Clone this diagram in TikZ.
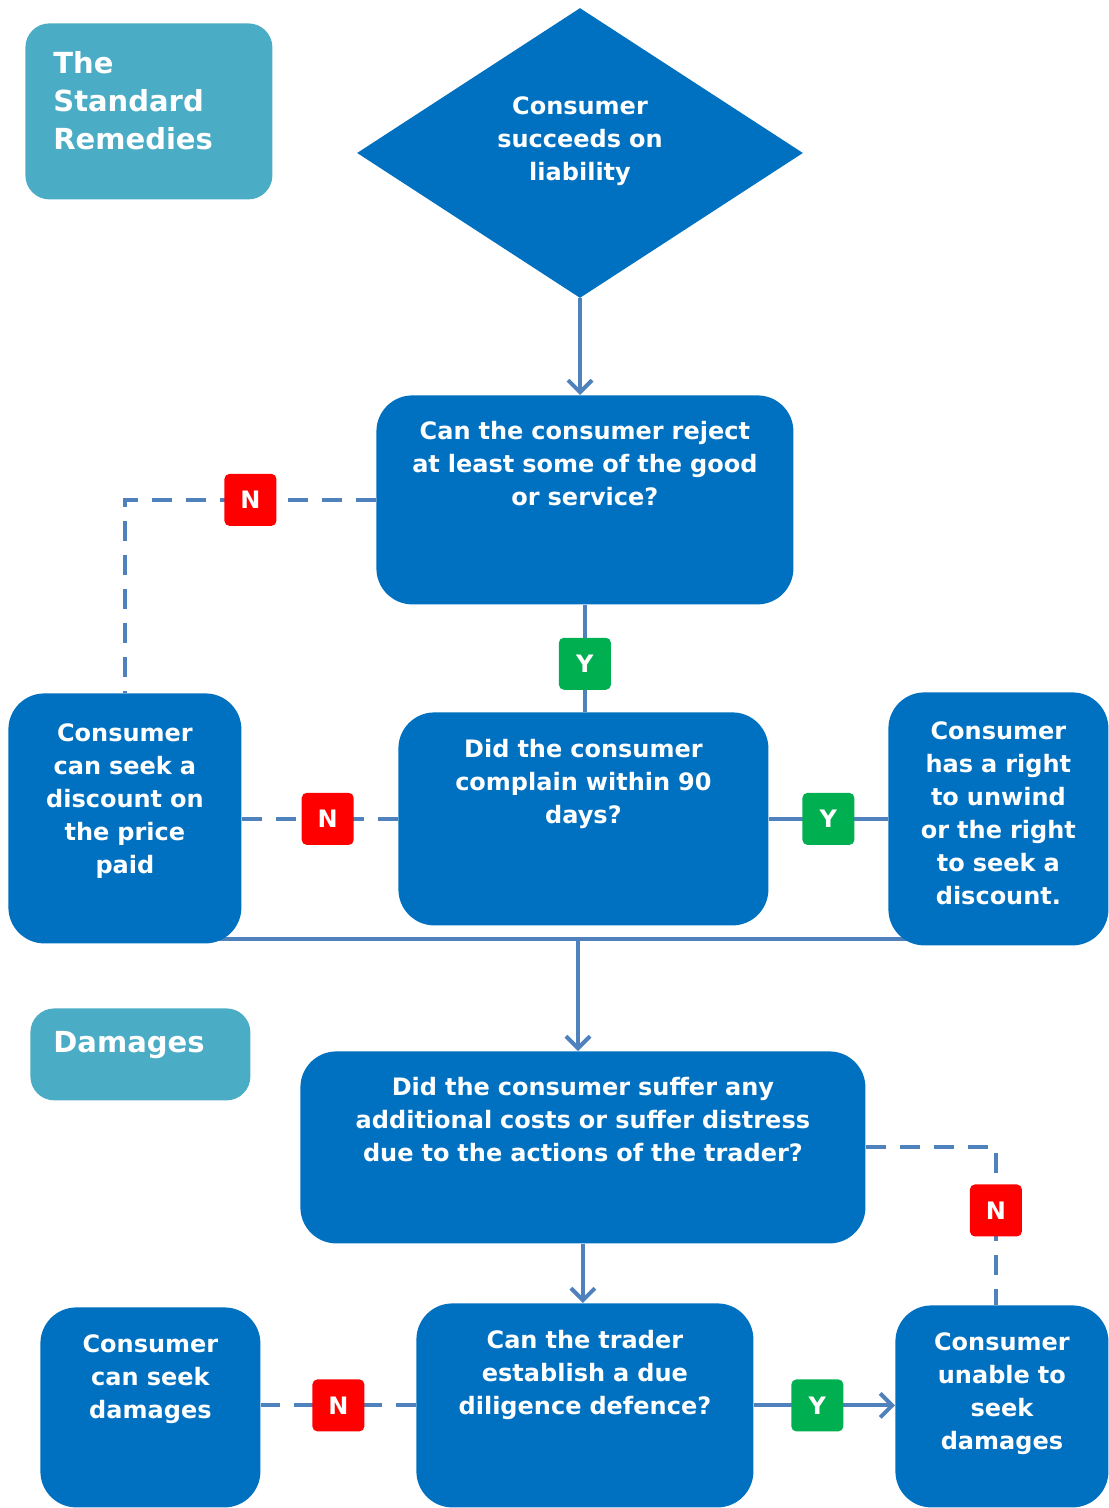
\documentclass[tikz,border=0pt]{standalone}
\usepackage{fontspec}
\setmainfont{DejaVu Sans}
\usetikzlibrary{shapes.geometric,arrows.meta,backgrounds}
\definecolor{boxblue}{HTML}{0070C0}
\definecolor{headblue}{HTML}{4BACC6}
\definecolor{linkblue}{HTML}{4F81BD}
\definecolor{nored}{HTML}{FF0000}
\definecolor{yesgreen}{HTML}{00B050}

\tikzset{
  blue box/.style={fill=boxblue, text=white, rounded corners=18pt, inner sep=0pt,
    align=center, anchor=north west, font=\bfseries\fontsize{12}{16.5}\selectfont},
  head box/.style={fill=headblue, text=white, rounded corners=12pt, inner ysep=0pt,
    align=left, anchor=north west, font=\bfseries\fontsize{14.5}{19}\selectfont},
  badge/.style={text=white, rounded corners=2.5pt, minimum size=26pt, inner sep=0pt,
    font=\bfseries\fontsize{12}{14}\selectfont},
  nobadge/.style={badge, fill=nored},
  yesbadge/.style={badge, fill=yesgreen},
  link/.style={draw=linkblue, line width=2pt},
  dashlink/.style={link, dash pattern=on 10pt off 7pt},
  arrow/.style={-{Straight Barb[length=6pt,width=12pt]}}
}

\begin{document}
\begin{tikzpicture}[x=0.5pt, y=-0.5pt]
    \useasboundingbox (0,0) rectangle (1108,1508);

    % the standard remedies
    \node[head box, inner xsep=14pt, text width=95.5pt, text height=25.25pt, text depth=62.75pt] (std) at (25,23) {The\\Standard\\Remedies};
    \node[diamond, aspect=1.54, fill=boxblue, text=white, inner sep=0pt, minimum width=223pt, minimum height=145pt,
        text width=95pt, align=center, text height=10pt, text depth=48pt,
        font=\bfseries\fontsize{12}{16.5}\selectfont] (liab) at (580,153) {Consumer\\succeeds on\\liability};
    \node[blue box, text width=208.5pt, text height=22pt, text depth=82.5pt] (reject) at (376,395) {Can the consumer reject\\at least some of the good\\or service?};
    \node[blue box, text width=185pt, text height=22.5pt, text depth=84pt] (complain) at (398,712) {Did the consumer\\complain within 90\\days?};
    \node[blue box, text width=116.5pt, text height=24pt, text depth=101pt] (discount) at (8,693) {Consumer\\can seek a\\discount on\\the price\\paid};
    \node[blue box, text width=110pt, text height=23.5pt, text depth=103pt] (unwind) at (888,692) {Consumer\\has a right\\to unwind\\or the right\\to seek a\\discount.};

    % damages
    \node[head box, inner xsep=11.5pt, text width=87pt, text height=22.25pt, text depth=23.75pt] (dmg) at (30,1008) {Damages};
    \node[blue box, text width=282.5pt, text height=22pt, text depth=74pt] (distress) at (300,1051) {Did the consumer suffer any\\additional costs or suffer distress\\due to the actions of the trader?};
    \node[blue box, text width=168.5pt, text height=22.5pt, text depth=79.5pt] (defence) at (416,1303) {Can the trader\\establish a due\\diligence defence?};
    \node[blue box, text width=110pt, text height=22.5pt, text depth=77.5pt] (seek) at (40,1307) {Consumer\\can seek\\damages};
    \node[blue box, text width=106.5pt, text height=22.5pt, text depth=78.5pt] (unable) at (895,1305) {Consumer\\unable to\\seek\\damages};

    \begin{scope}[on background layer]
    \draw[link, arrow] (liab.south) -- (liab.south |- reject.north);
    \draw[dashlink] (reject.west) -| node[nobadge, pos=0.25] (n1) {N} (discount.north);
    \draw[link] (reject.south) -- node[yesbadge, pos=0.55] (y1) {Y} (reject.south |- complain.north);
    \draw[dashlink] (complain.west) -- node[nobadge, pos=0.45] (n2) {N} (complain.west -| discount.east);
    \draw[link] (complain.east) -- node[yesbadge] (y2) {Y} (complain.east -| unwind.west);
    \coordinate (merge) at (578,939);
    \draw[link] (merge -| discount.center) -- (merge -| unwind.center);
    \draw[link, arrow] (merge) -- (merge |- distress.north);
    \draw[dashlink] (distress.east) -| node[nobadge, pos=0.7] (n3) {N} ([xshift=-3pt]unable.north);
    \draw[link, arrow] (distress.south) -- (distress.south |- defence.north);
    \draw[dashlink] (defence.west) -- node[nobadge] (n4) {N} (defence.west -| seek.east);
    \draw[link, arrow] (defence.east) -- node[yesbadge, pos=0.45] (y3) {Y} (defence.east -| unable.west);
    \end{scope}
\end{tikzpicture}
\end{document}
